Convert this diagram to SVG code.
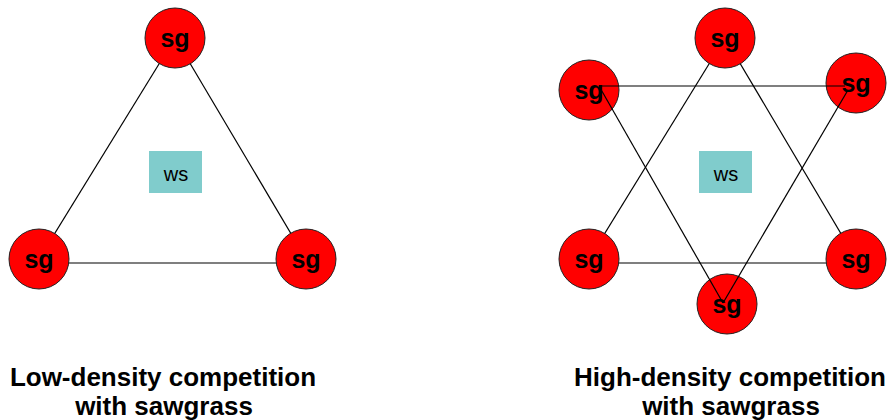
<svg xmlns="http://www.w3.org/2000/svg" width="887" height="420" viewBox="0 0 887 420">
<style>
.sg circle{fill:#ff0000;stroke:#222;stroke-width:1}
.sg text{font-family:"Liberation Sans",Arial,sans-serif;font-weight:bold;font-size:25px;fill:#000;text-anchor:middle}
.ws rect{fill:#80cccc}
.ws text{font-family:"Liberation Sans",Arial,sans-serif;font-size:20px;fill:#000;text-anchor:middle}
.conn line{stroke:#000;stroke-width:1.2}
.cap{font-family:"Liberation Sans",Arial,sans-serif;font-weight:bold;font-size:26px;fill:#000;text-anchor:middle}
</style>
<rect width="887" height="420" fill="#fff"/>
<g id="connectors-under" class="conn">
<line x1="175" y1="38" x2="39" y2="259"/>
<line x1="175" y1="38" x2="306" y2="259"/>
<line x1="39" y1="263" x2="306" y2="263"/>
<line x1="725" y1="38" x2="589" y2="259"/>
<line x1="725" y1="38" x2="856" y2="259"/>
<line x1="589" y1="263" x2="856" y2="263"/>
</g>
<g id="sg-l-top" class="sg"><circle cx="175" cy="38" r="30"/><text x="175" y="47">sg</text></g>
<g id="sg-l-bl" class="sg"><circle cx="39" cy="259" r="30"/><text x="39" y="268">sg</text></g>
<g id="sg-l-br" class="sg"><circle cx="306" cy="259" r="30"/><text x="306" y="268">sg</text></g>
<g id="ws-l" class="ws"><rect x="149" y="151" width="53" height="42"/><text x="176" y="181">ws</text></g>
<g id="sg-r-top" class="sg"><circle cx="725" cy="38" r="30"/><text x="725" y="47">sg</text></g>
<g id="sg-r-ul" class="sg"><circle cx="589" cy="90" r="30"/><text x="589" y="99">sg</text></g>
<g id="sg-r-ur" class="sg"><circle cx="856" cy="83" r="30"/><text x="856" y="92">sg</text></g>
<g id="sg-r-ll" class="sg"><circle cx="589" cy="259" r="30"/><text x="589" y="268">sg</text></g>
<g id="sg-r-lr" class="sg"><circle cx="856" cy="259" r="30"/><text x="856" y="268">sg</text></g>
<g id="sg-r-bot" class="sg"><circle cx="727" cy="304" r="30"/><text x="727" y="313">sg</text></g>
<g id="ws-r" class="ws"><rect x="699" y="151" width="53" height="42"/><text x="726" y="181">ws</text></g>
<g id="connectors-over" class="conn">
<line x1="599" y1="86" x2="845" y2="86"/>
<line x1="599" y1="86" x2="723" y2="303"/>
<line x1="848" y1="90" x2="723" y2="303"/>
</g>
<g id="captions">
<text class="cap" x="163" y="386">Low-density competition</text>
<text class="cap" x="164" y="415">with sawgrass</text>
<text class="cap" x="730" y="386">High-density competition</text>
<text class="cap" x="731" y="415">with sawgrass</text>
</g>
</svg>
